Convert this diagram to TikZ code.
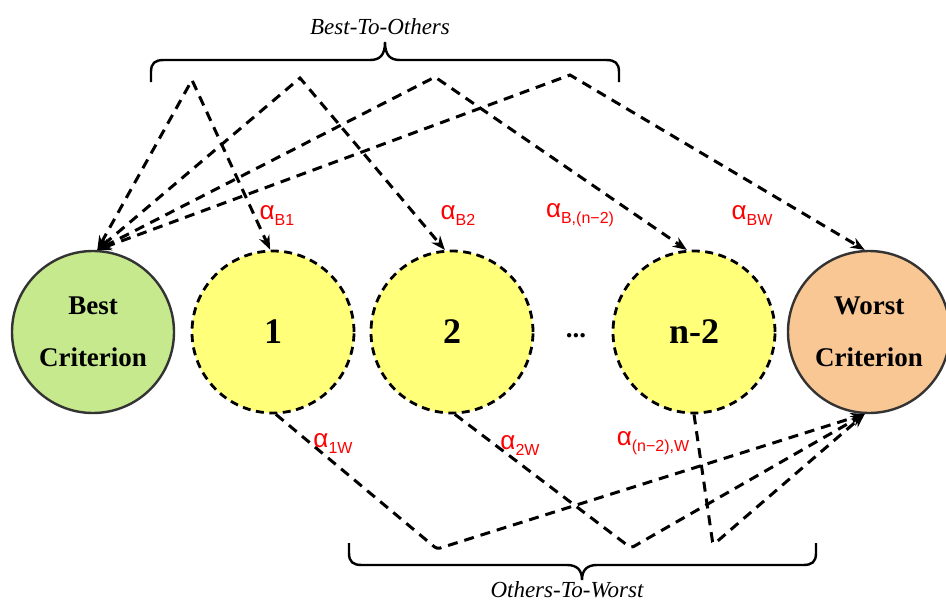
\documentclass[tikz,border=0pt]{standalone}
\usepackage{fontspec}
\setmainfont{Liberation Serif}
\newfontfamily\labfont{Liberation Sans}
\usetikzlibrary{arrows.meta}
\definecolor{bestgreen}{HTML}{C6E98D}
\definecolor{worstpeach}{HTML}{F9C794}
\definecolor{midyellow}{HTML}{FFFF7A}
\definecolor{edgegray}{HTML}{333333}
\newcommand{\alab}[1]{{\fontsize{26}{26}\selectfont α}\raisebox{-6pt}{\fontsize{16}{16}\selectfont #1}}
\tikzset{
  crit/.style={circle, minimum size=162pt, inner sep=0pt, draw=edgegray, line width=2.4pt,
    align=center, font=\bfseries\fontsize{27}{52}\selectfont},
  bestc/.style={crit, fill=bestgreen},
  worstc/.style={crit, fill=worstpeach},
  midc/.style={circle, minimum size=162pt, inner sep=0pt, draw=black, line width=2.8pt,
    dash pattern=on 8pt off 5.5pt, fill=midyellow, font=\bfseries\fontsize{36}{36}\selectfont},
  conn/.style={line width=3pt, dash pattern=on 10pt off 7pt, black,
    >={Stealth[length=14pt,width=11pt]}},
  lab/.style={text=red, font=\labfont, inner sep=0pt},
  bracetext/.style={font=\itshape\fontsize{23}{23}\selectfont, inner sep=0pt},
  bracestyle/.style={line width=2.4pt, black}
}
\begin{document}
\begin{tikzpicture}[x=1pt,y=-1pt]
\useasboundingbox (0,0) rectangle (946,603);
% nodes
\node[bestc] (best) at (93,332) {Best\\Criterion};
\node[midc] (c1) at (273,332) {1};
\node[midc] (c2) at (452,332) {2};
\node[midc] (cn) at (694,332) {n-2};
\node[worstc] (worst) at (869,332) {Worst\\Criterion};
\node[font=\bfseries\fontsize{27}{27}\selectfont] (dots) at (576,336) {...};
% peaks
\coordinate (t1) at (192,80);
\coordinate (t2) at (300,78);
\coordinate (t3) at (435,77);
\coordinate (t4) at (570,75);
% valleys
\coordinate (b1) at (437,549);
\coordinate (b2) at (631,548);
\coordinate (b3) at (713,545);
% best-to-others connectors
\draw[conn,<->] (best.87) -- (t1) -- (c1.92);
\draw[conn,<->] (best.87) -- (t2) -- (c2.95);
\draw[conn,<->] (best.87) -- (t3) -- (cn.95);
\draw[conn,<->] (best.87) -- (t4) -- (worst.93);
% others-to-worst connectors
\draw[conn,->,rounded corners=3pt] (c1.-88) -- (b1) -- (worst.-93);
\draw[conn,->,rounded corners=3pt] (c2.-88) -- (b2) -- (worst.-93);
\draw[conn,->,rounded corners=3pt] (cn.south) -- (b3) -- (worst.-93);
% labels
\node[lab] (lb1) at (277,215) {\alab{B1}};
\node[lab] (lb2) at (458,215) {\alab{B2}};
\node[lab] (lbn) at (580,215) {\alab{B,(n−2)}};
\node[lab] (lbw) at (752,215) {\alab{BW}};
\node[lab] (l1w) at (333,443) {\alab{1W}};
\node[lab] (l2w) at (520,445) {\alab{2W}};
\node[lab] (lnw) at (653,443) {\alab{(n−2),W}};
% braces
\draw[bracestyle] (151,82) -- (151,72) .. controls (151,63) and (155,60) .. (164,60) -- (370,60)
  .. controls (380,60) and (385,55) .. (385,42) .. controls (385,55) and (390,60) .. (400,60)
  -- (606,60) .. controls (615,60) and (619,63) .. (619,72) -- (619,82);
\draw[bracestyle] (349,543) -- (349,553) .. controls (349,562) and (353,565) .. (362,565) -- (567,565)
  .. controls (577,565) and (582,570) .. (582,580) .. controls (582,570) and (587,565) .. (597,565)
  -- (803,565) .. controls (812,565) and (816,562) .. (816,553) -- (816,543);
\node[bracetext] (bto) at (380,27) {Best-To-Others};
\node[bracetext] (otw) at (567,590) {Others-To-Worst};
\end{tikzpicture}
\end{document}
